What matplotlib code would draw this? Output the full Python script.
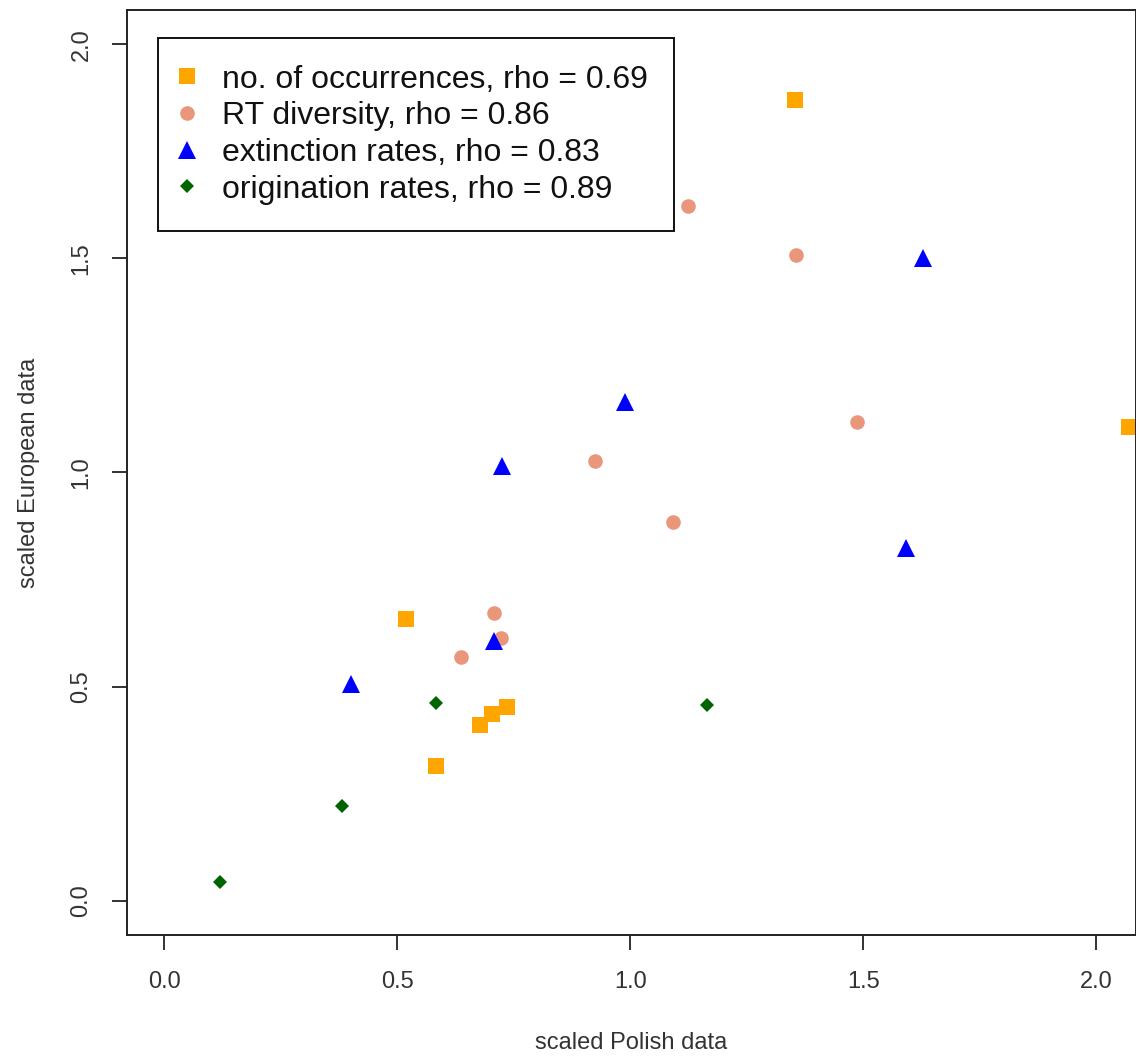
import matplotlib
matplotlib.use("Agg")
import matplotlib.pyplot as plt

plt.rcParams['font.family'] = ['Liberation Sans', 'DejaVu Sans']

# Data
occ_x = [1.354, 2.07, 0.519, 0.583, 0.677, 0.704, 0.735]
occ_y = [1.870, 1.106, 0.657, 0.315, 0.410, 0.435, 0.453]

rt_x = [1.123, 1.355, 1.487, 0.925, 1.092, 0.707, 0.723, 0.637]
rt_y = [1.622, 1.509, 1.117, 1.027, 0.884, 0.673, 0.614, 0.569]

ext_x = [1.627, 0.989, 0.724, 1.592, 0.707, 0.401]
ext_y = [1.501, 1.164, 1.016, 0.823, 0.607, 0.505]

ori_x = [0.119, 0.381, 0.583, 1.164]
ori_y = [0.044, 0.221, 0.461, 0.457]

labels = ["no. of occurrences, rho = 0.69",
          "RT diversity, rho = 0.86",
          "extinction rates, rho = 0.83",
          "origination rates, rho = 0.89"]
ticks = [0.0, 0.5, 1.0, 1.5, 2.0]
tick_labels = ["0.0", "0.5", "1.0", "1.5", "2.0"]

W, H = 1136, 1057
fig = plt.figure(figsize=(W / 100, H / 100), dpi=100)
ax = fig.add_axes([127 / W, 1 - 935 / H, 1 - 127 / W, (935 - 10) / H])

ax.plot(occ_x, occ_y, linestyle='none', marker='s', markersize=11,
        color='#FFA500', markeredgewidth=0, label=labels[0])
ax.plot(rt_x, rt_y, linestyle='none', marker='o', markersize=10.5,
        color='#E9967A', markeredgewidth=0, label=labels[1])
ax.plot(ext_x, ext_y, linestyle='none', marker='^', markersize=12.5,
        color='#0000FF', markeredgewidth=0, label=labels[2])
ax.plot(ori_x, ori_y, linestyle='none', marker='D', markersize=7.5,
        color='#006400', markeredgewidth=0, label=labels[3])

ax.set_xlim(-0.08, 2.085)
ax.set_ylim(-0.08, 2.08)

ax.set_xticks(ticks)
ax.set_xticklabels(tick_labels)
ax.set_yticks(ticks)
ax.set_yticklabels(tick_labels, rotation=90, va='center')

ax.tick_params(axis='both', direction='out', length=10.8, width=1.3,
               colors='#222222', labelsize=17)
ax.tick_params(axis='x', pad=15)
ax.tick_params(axis='y', pad=14)
for lab in ax.get_xticklabels() + ax.get_yticklabels():
    lab.set_color('#333333')

for s in ax.spines.values():
    s.set_linewidth(1.4)
    s.set_color('#222222')

ax.set_xlabel("scaled Polish data", fontsize=17, color='#333333', labelpad=28)
ax.set_ylabel("scaled European data", fontsize=17, color='#333333', labelpad=22)

leg = ax.legend(loc='upper left', bbox_to_anchor=(158 / W, 1 - 38 / H),
                bbox_transform=fig.transFigure, fontsize=23, frameon=True,
                fancybox=False, framealpha=1, edgecolor='#111111',
                borderpad=0.83, handlelength=0.15, handletextpad=1.02,
                labelspacing=0.21, borderaxespad=0, numpoints=1)
leg.get_frame().set_linewidth(1.4)
for t in leg.get_texts():
    t.set_color('#111111')

fig.savefig("out.png", dpi=100)
